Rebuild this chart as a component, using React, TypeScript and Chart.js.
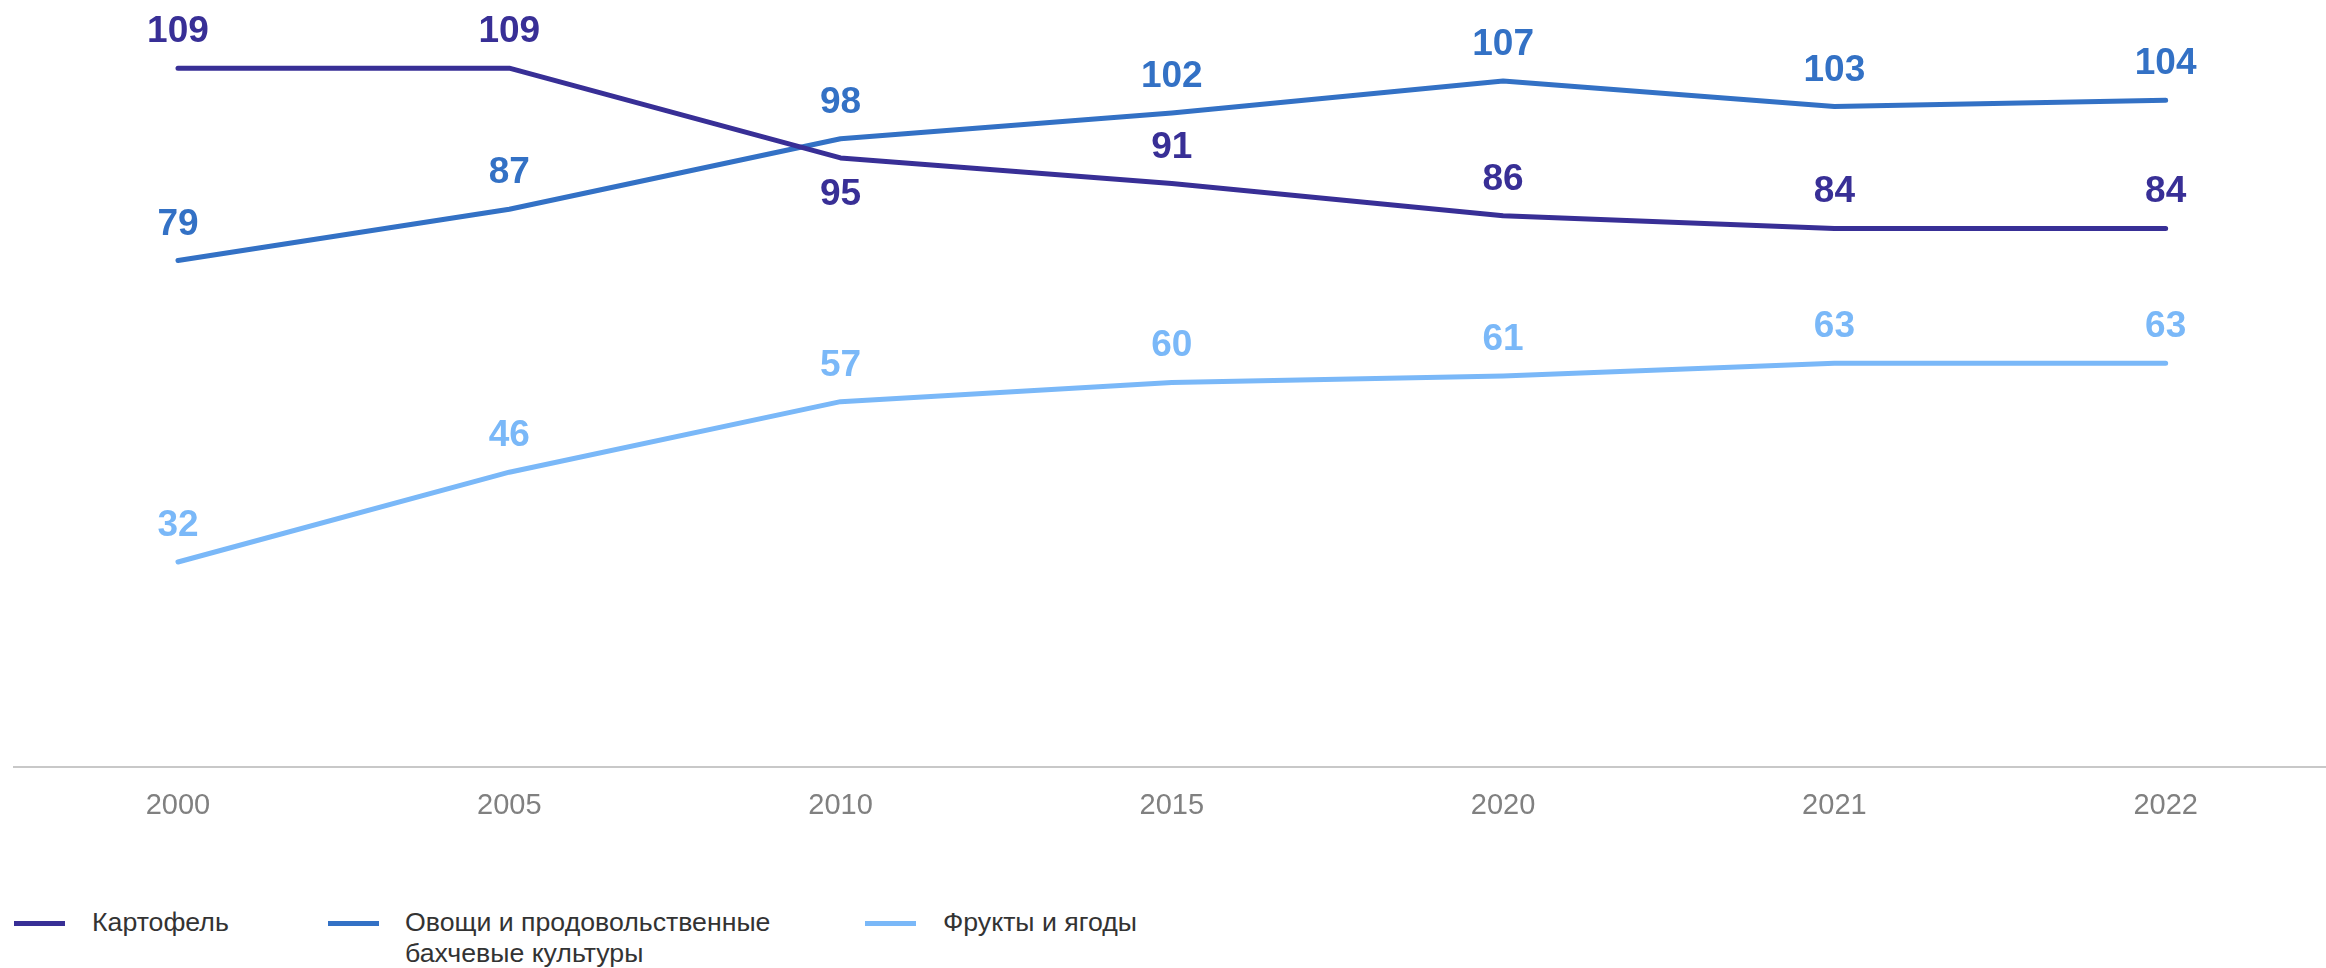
import React, { useEffect, useRef } from "react";
import { Chart, registerables } from "chart.js";

Chart.register(...registerables);

const years = ["2000", "2005", "2010", "2015", "2020", "2021", "2022"];
const potato = [109, 109, 95, 91, 86, 84, 84];
const vegetables = [79, 87, 98, 102, 107, 103, 104];
const fruits = [32, 46, 57, 60, 61, 63, 63];
const seriesNames = [
  "Картофель",
  "Овощи и продовольственные бахчевые культуры",
  "Фрукты и ягоды",
];
const seriesColors = ["#382f96", "#3371c5", "#7ab8f8"];
const seriesValues = [potato, vegetables, fruits];
// indices of labels placed below the line, per series
const labelsBelow: number[][] = [[2], [], []];

const FONT = "'Liberation Sans', Arial, Helvetica, sans-serif";

const valueLabels = {
  id: "valueLabels",
  afterDatasetsDraw(chart: any) {
    const ctx = chart.ctx;
    ctx.save();
    ctx.font = `bold 37px ${FONT}`;
    ctx.textAlign = "center";
    ctx.textBaseline = "alphabetic";
    chart.data.datasets.forEach((ds: any, d: number) => {
      const meta = chart.getDatasetMeta(d);
      ctx.fillStyle = ds.borderColor;
      meta.data.forEach((pt: any, i: number) => {
        const v = ds.data[i].y;
        const below = labelsBelow[d].includes(i);
        ctx.fillText(String(v), pt.x, below ? pt.y + 47 : pt.y - 26);
      });
    });
    ctx.restore();
  },
};

export default function App() {
  const canvasRef = useRef<HTMLCanvasElement | null>(null);

  useEffect(() => {
    if (!canvasRef.current) return;
    const chart = new Chart(canvasRef.current, {
      type: "line",
      data: {
        datasets: seriesValues.map((vals, d) => ({
          label: seriesNames[d],
          data: vals.map((v, i) => ({ x: i, y: v })),
          borderColor: seriesColors[d],
          backgroundColor: seriesColors[d],
          borderWidth: 5,
          borderCapStyle: "round",
          borderJoinStyle: "round",
          pointRadius: 0,
          pointHoverRadius: 0,
          tension: 0,
          fill: false,
        })),
      },
      options: {
        animation: false,
        responsive: true,
        maintainAspectRatio: false,
        layout: { padding: { left: 14, right: 0, top: 4, bottom: 8 } },
        plugins: {
          legend: { display: false },
          tooltip: { enabled: false },
        },
        scales: {
          x: {
            type: "linear",
            min: -0.495,
            max: 6.484,
            afterBuildTicks: (axis: any) => {
              axis.ticks = years.map((_, i) => ({ value: i }));
            },
            ticks: {
              callback: (value: any) => years[value as number] ?? "",
              font: { family: FONT, size: 29 },
              color: "#808080",
              padding: 21,
              autoSkip: false,
              maxRotation: 0,
            },
            grid: { display: false, drawTicks: false },
            border: { display: true, color: "#c8c8c8", width: 2 },
          },
          y: {
            display: false,
            min: 0,
            max: 119,
          },
        },
      } as any,
      plugins: [valueLabels],
    });
    return () => chart.destroy();
  }, []);

  const legendItems = [
    { marker: 14, text: 92, width: 300 },
    { marker: 328, text: 405, width: 410 },
    { marker: 865, text: 943, width: 410 },
  ];

  return (
    <div
      style={{
        position: "absolute",
        left: 0,
        top: 0,
        width: 2326,
        height: 968,
        overflow: "hidden",
        background: "#ffffff",
      }}
    >
      <div style={{ position: "absolute", left: 0, top: 0, width: 2326, height: 852 }}>
        <canvas ref={canvasRef} />
      </div>
      {legendItems.map((it, d) => (
        <React.Fragment key={d}>
          <div
            style={{
              position: "absolute",
              left: it.marker,
              top: 921,
              width: 51,
              height: 5,
              background: seriesColors[d],
            }}
          />
          <div
            style={{
              position: "absolute",
              left: it.text,
              top: 907,
              width: it.width,
              fontFamily: FONT,
              fontSize: 26.7,
              lineHeight: "31px",
              color: "#333333",
            }}
          >
            {seriesNames[d]}
          </div>
        </React.Fragment>
      ))}
    </div>
  );
}
